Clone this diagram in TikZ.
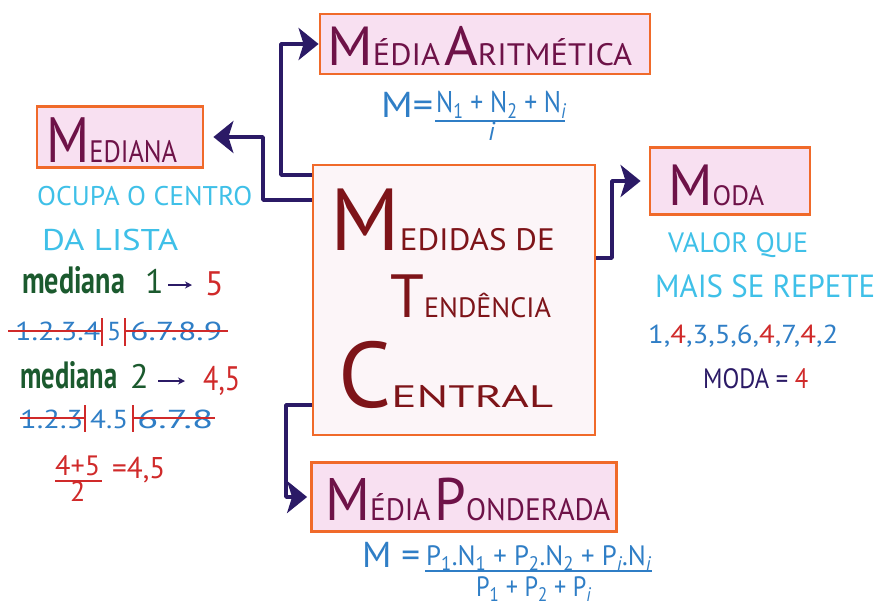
\documentclass[tikz,border=0pt]{standalone}
\usepackage{fontspec}
\usepackage{graphicx}
\setmainfont{PT Sans}
\usetikzlibrary{arrows.meta}
\definecolor{orng}{HTML}{F06A2A}
\definecolor{pinkf}{HTML}{F8E0F1}
\definecolor{cfill}{HTML}{FCF5F8}
\definecolor{ttl}{HTML}{6E1248}
\definecolor{dred}{HTML}{7E1419}
\definecolor{lblue}{HTML}{3FC0E8}
\definecolor{fblue}{HTML}{2F7EC6}
\definecolor{dgreen}{HTML}{1B5A2E}
\definecolor{rred}{HTML}{D02A2A}
\definecolor{dpurp}{HTML}{2B1A66}
\newcommand\fs[2]{{\fontsize{#1}{#1}\selectfont #2}}
\newcommand\fw[2]{\resizebox{#1}{\height}{#2}}
\begin{document}
\begin{tikzpicture}[x=1pt,y=-1pt,
  box/.style={draw=orng,line width=2.8pt,fill=pinkf,inner sep=0pt,rectangle},
  conn/.style={draw=dpurp,line width=3.6pt,line join=round,-{Stealth[length=20pt,width=32pt,inset=5pt]}},
  small arrow/.style={draw=dpurp,line width=1.6pt,-{Stealth[length=7pt,width=7pt]}},
  lbl/.style={inner sep=0pt,anchor=base west},
  ttext/.style={lbl,text=ttl},
  ctext/.style={lbl,text=dred},
  strike/.style={draw=rred,line width=1.6pt},
  sep/.style={draw=rred,line width=2pt},
  fbar/.style={line width=1.4pt}]
\useasboundingbox (0,0) rectangle (880,606);
\fill[white] (0,0) rectangle (880,606);

% boxes
\node[box,fill=cfill,minimum width=282pt,minimum height=270pt] (c) at (454,300) {};
\node[box,minimum width=330pt,minimum height=60pt] (ma) at (485,44) {};
\node[box,minimum width=166pt,minimum height=61pt] (md) at (120,137) {};
\node[box,minimum width=160pt,minimum height=67pt] (mo) at (730,181) {};
\node[box,minimum width=305pt,minimum height=69pt] (mp) at (464,497) {};

% central text
\node[ctext] (t1) at (330,250) {\fs{88}{M}\fw{155pt}{\fs{31}{EDIDAS DE}}};
\node[ctext] (t2) at (390,317) {\fs{61}{T}\fw{127pt}{\fs{28}{ENDÊNCIA}}};
\node[ctext] (t3) at (338,407) {\fs{93}{C}\fw{162pt}{\fs{31}{ENTRAL}}};

% titles
\node[ttext] (mat) at (327,65) {\fw{305pt}{\fs{55}{M}\fs{31}{ÉDIA}\hspace{4pt}\fs{55}{A}\fs{31}{RITMÉTICA}}};
\node[ttext] (mdt) at (46,162) {\fw{131pt}{\fs{64}{M}\fs{31}{EDIANA}}};
\node[ttext] (mot) at (668,205) {\fw{96pt}{\fs{58}{M}\fs{28}{ODA}}};
\node[ttext] (mpt) at (325,520) {\fw{285pt}{\fs{60}{M}\fs{31}{ÉDIA}\hspace{4pt}\fs{60}{P}\fs{31}{ONDERADA}}};

% connectors
\draw[conn] (c.west |- 0,175) -- (281,175) |- (ma.west);
\draw[conn,shorten >=9pt] (c.west |- 0,200) -- (263,200) |- (md.east);
\draw[conn,shorten >=8pt] (c.east |- 0,258) -- (612,258) |- (mo.west);
\draw[conn,shorten >=3pt] (c.west |- 0,405) -- (286,405) |- (mp.west);

% media aritmetica formula
\node[lbl,text=fblue] (fa) at (381,117) {\fw{52pt}{\fs{36}{M=}}};
\node[lbl,text=fblue] (fan) at (436,112) {\fw{130pt}{\fs{30}{N\textsubscript{1} + N\textsubscript{2} + N\textsubscript{\itshape i}}}};
\draw[fblue,fbar] (435,121) -- (565,121);
\node[lbl,text=fblue] (fad) at (488,140) {\fs{26}{\itshape i}};

% mediana side
\node[lbl,text=lblue] (o1) at (37,205) {\fw{215pt}{\fs{27}{OCUPA O CENTRO}}};
\node[lbl,text=lblue] (o2) at (42,250) {\fw{136pt}{\fs{30}{DA LISTA}}};
\node[lbl,text=dgreen] (m1) at (22,293) {\fw{103pt}{\fs{38}{\bfseries mediana}}};
\node[lbl,text=dgreen] (m1n) at (145,293) {\fs{34}{1}};
\node[lbl,text=rred] (m1v) at (205,295) {\fs{34}{5}};
\coordinate (a1s) at (168,285); \coordinate (a1e) at (192,285);
\draw[small arrow] (a1s) -- (a1e);

\node[lbl,text=fblue] (r1a) at (15,340) {\fw{85pt}{\fs{26}{1.2.3.4}}};
\node[lbl,text=fblue] (r1b) at (107,340) {\fs{26}{5}};
\node[lbl,text=fblue] (r1c) at (130,340) {\fw{92pt}{\fs{26}{6.7.8.9}}};
\draw[strike] (8,331) -- (102,331);
\draw[strike] (125,331) -- (228,331);
\draw[sep] (102,318) -- (102,346);
\draw[sep] (125,318) -- (125,346);

\node[lbl,text=dgreen] (m2) at (20,388) {\fw{97pt}{\fs{38}{\bfseries mediana}}};
\node[lbl,text=dgreen] (m2n) at (130,388) {\fs{34}{2}};
\node[lbl,text=rred] (m2v) at (203,390) {\fw{37pt}{\fs{34}{4,5}}};
\coordinate (a2s) at (158,381); \coordinate (a2e) at (185,381);
\draw[small arrow] (a2s) -- (a2e);

\node[lbl,text=fblue] (r2a) at (20,428) {\fw{63pt}{\fs{26}{1.2.3}}};
\node[lbl,text=fblue] (r2b) at (90,428) {\fw{38pt}{\fs{26}{4.5}}};
\node[lbl,text=fblue] (r2c) at (137,428) {\fw{76pt}{\fs{26}{6.7.8}}};
\draw[strike] (20,418) -- (85,418);
\draw[strike] (133,418) -- (215,418);
\draw[sep] (85,405) -- (85,432);
\draw[sep] (133,405) -- (133,432);

\node[lbl,text=rred] (fr1) at (55,475) {\fw{45pt}{\fs{28}{4+5}}};
\draw[rred,fbar] (55,481) -- (102,481);
\node[lbl,text=rred] (fr2) at (70,501) {\fs{28}{2}};
\node[lbl,text=rred] (fr3) at (112,478) {\fw{53pt}{\fs{30}{=4,5}}};

% moda side
\node[lbl,text=lblue] (v1) at (668,252) {\fw{140pt}{\fs{28}{VALOR QUE}}};
\node[lbl,text=lblue] (v2) at (655,297) {\fw{220pt}{\fs{32}{MAIS SE REPETE}}};
\node[lbl,text=fblue] (v3) at (648,343) {\fw{190pt}{\fs{26}{1,\textcolor{rred}{4},3,5,6,\textcolor{rred}{4},7,\textcolor{rred}{4},2}}};
\node[lbl,text=dpurp] (v4) at (703,388) {\fw{105pt}{\fs{28}{MODA = \textcolor{rred}{4}}}};

% media ponderada formula
\node[lbl,text=fblue] (fp) at (362,567) {\fw{58pt}{\fs{36}{M =}}};
\node[lbl,text=fblue] (fpn) at (426,565) {\fw{225pt}{\fs{28}{P\textsubscript{1}.N\textsubscript{1} + P\textsubscript{2}.N\textsubscript{2} + P\textsubscript{\itshape i}.N\textsubscript{\itshape i}}}};
\draw[fblue,fbar] (425,571) -- (652,571);
\node[lbl,text=fblue] (fpd) at (476,596) {\fw{115pt}{\fs{28}{P\textsubscript{1} + P\textsubscript{2} + P\textsubscript{\itshape i}}}};
\end{tikzpicture}
\end{document}
